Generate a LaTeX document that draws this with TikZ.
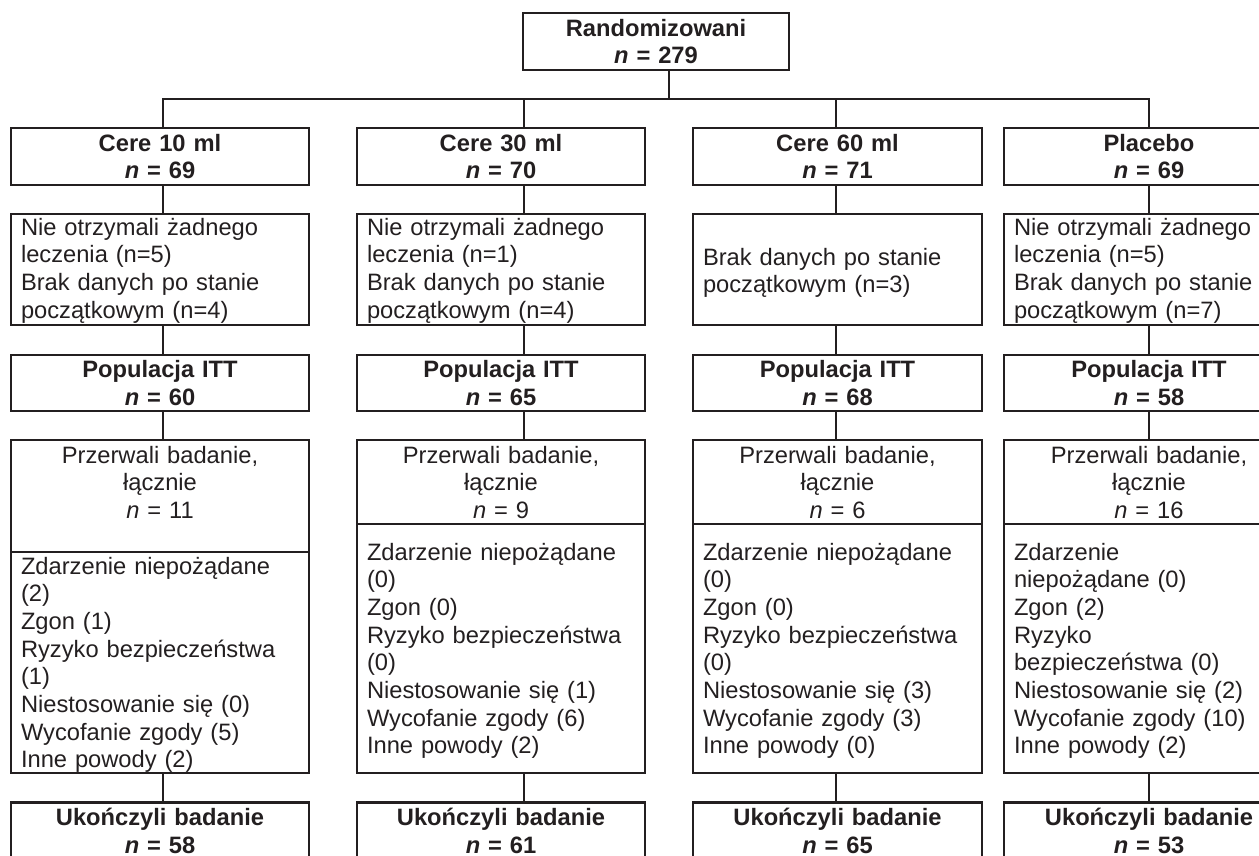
\documentclass[tikz,border=0pt]{standalone}
\usepackage{fontspec}
\setmainfont{Liberation Sans}
\definecolor{ciemny}{HTML}{231F20}
\begin{document}
\begin{tikzpicture}[x=0.5pt,y=-0.5pt,color=ciemny,
    font=\fontsize{11.85}{13.85}\selectfont,
    box/.style={draw,line width=1.15pt,inner ysep=0pt,inner xsep=5pt},
    tytul/.style={box,align=center,font=\fontsize{11.85}{13.85}\selectfont\bfseries},
    lista/.style={box,align=left}]
    \useasboundingbox (0,0) rectangle (1259,856);
    % Kolumny (px): 1: 11-309, 2: 357-645, 3: 693-982, 4: 1004-1294 (ucięta).
    % text height = odstęp pierwszej linii bazowej od góry ramki, text depth = reszta.
    \node[tytul,text width=123pt,minimum height=28.5pt] (rand) at (656,41.5) {Randomizowani\\\textit{n} = 279};
    \coordinate (bus) at (669,99); % szyna pozioma
    \coordinate (s1) at (163,0); \coordinate (s2) at (524,0); % osie linii
    \coordinate (s3) at (836,0); \coordinate (s4) at (1149,0);
    % ramiona
    \node[tytul,text width=139pt,minimum height=28.5pt] (arm1) at (160,156.5) {Cere 10 ml\\\textit{n} = 69};
    \node[tytul,text width=134pt,minimum height=28.5pt] (arm2) at (501,156.5) {Cere 30 ml\\\textit{n} = 70};
    \node[tytul,text width=134.5pt,minimum height=28.5pt] (arm3) at (837.5,156.5) {Cere 60 ml\\\textit{n} = 71};
    \node[tytul,text width=135pt,minimum height=28.5pt] (arm4) at (1149,156.5) {Placebo\\\textit{n} = 69};
    % wykluczeni
    \node[lista,text width=139pt,text height=10.5pt,text depth=45pt] (excl1) at (160,269.5) {Nie otrzymali żadnego\\leczenia (n=5)\\Brak danych po stanie\\początkowym (n=4)};
    \node[lista,text width=134pt,text height=10.5pt,text depth=45pt] (excl2) at (501,269.5) {Nie otrzymali żadnego\\leczenia (n=1)\\Brak danych po stanie\\początkowym (n=4)};
    \node[lista,text width=134.5pt,text height=25.5pt,text depth=30pt] (excl3) at (837.5,269.5) {Brak danych po stanie\\początkowym (n=3)};
    \node[lista,text width=135pt,text height=10.5pt,text depth=45pt] (excl4) at (1149,269.5) {Nie otrzymali żadnego\\leczenia (n=5)\\Brak danych po stanie\\początkowym (n=7)};
    % populacja ITT
    \node[tytul,text width=139pt,minimum height=28pt] (itt1) at (160,383) {Populacja ITT\\\textit{n} = 60};
    \node[tytul,text width=134pt,minimum height=28pt] (itt2) at (501,383) {Populacja ITT\\\textit{n} = 65};
    \node[tytul,text width=134.5pt,minimum height=28pt] (itt3) at (837.5,383) {Populacja ITT\\\textit{n} = 68};
    \node[tytul,text width=135pt,minimum height=28pt] (itt4) at (1149,383) {Populacja ITT\\\textit{n} = 58};
    % przerwali
    \node[box,align=center,text width=139pt,text height=11.5pt,text depth=44.5pt] (stop1) at (160,496) {Przerwali badanie,\\łącznie\\\textit{n} = 11};
    \node[box,align=center,text width=134pt,text height=11.5pt,text depth=30.5pt] (stop2) at (501,482) {Przerwali badanie,\\łącznie\\\textit{n} = 9};
    \node[box,align=center,text width=134.5pt,text height=11.5pt,text depth=30.5pt] (stop3) at (837.5,482) {Przerwali badanie,\\łącznie\\\textit{n} = 6};
    \node[box,align=center,text width=135pt,text height=11.5pt,text depth=30.5pt] (stop4) at (1149,482) {Przerwali badanie,\\łącznie\\\textit{n} = 16};
    % powody
    \node[lista,text width=139pt,text height=11pt,text depth=99.5pt] (low1) at (160,662.5) {Zdarzenie niepożądane\\(2)\\Zgon (1)\\Ryzyko bezpieczeństwa\\(1)\\Niestosowanie się (0)\\Wycofanie zgody (5)\\Inne powody (2)};
    \node[lista,text width=134pt,text height=18pt,text depth=106.5pt] (low2) at (501,648.5) {Zdarzenie niepożądane\\(0)\\Zgon (0)\\Ryzyko bezpieczeństwa\\(0)\\Niestosowanie się (1)\\Wycofanie zgody (6)\\Inne powody (2)};
    \node[lista,text width=134.5pt,text height=18pt,text depth=106.5pt] (low3) at (837.5,648.5) {Zdarzenie niepożądane\\(0)\\Zgon (0)\\Ryzyko bezpieczeństwa\\(0)\\Niestosowanie się (3)\\Wycofanie zgody (3)\\Inne powody (0)};
    \node[lista,text width=135pt,text height=18pt,text depth=106.5pt] (low4) at (1149,648.5) {Zdarzenie\\niepożądane (0)\\Zgon (2)\\Ryzyko\\bezpieczeństwa (0)\\Niestosowanie się (2)\\Wycofanie zgody (10)\\Inne powody (2)};
    % ukończyli
    \node[tytul,text width=139pt,minimum height=28.5pt] (done1) at (160,831) {Ukończyli badanie\\\textit{n} = 58};
    \node[tytul,text width=134pt,minimum height=28.5pt] (done2) at (501,831) {Ukończyli badanie\\\textit{n} = 61};
    \node[tytul,text width=134.5pt,minimum height=28.5pt] (done3) at (837.5,831) {Ukończyli badanie\\\textit{n} = 65};
    \node[tytul,text width=135pt,minimum height=28.5pt] (done4) at (1149,831) {Ukończyli badanie\\\textit{n} = 53};
    % linie
    \draw[line width=1.15pt] (rand.south -| bus) -- (bus);
    \draw[line width=1.15pt] (arm1.north -| s1) |- (bus) -| (arm4.north -| s4);
    \draw[line width=1.15pt] (arm2.north -| s2) -- (bus -| s2);
    \draw[line width=1.15pt] (arm3.north -| s3) -- (bus -| s3);
    \draw[line width=1.15pt] (arm1.south -| s1) -- (excl1.north -| s1); % kolumna 1
    \draw[line width=1.15pt] (excl1.south -| s1) -- (itt1.north -| s1);
    \draw[line width=1.15pt] (itt1.south -| s1) -- (stop1.north -| s1);
    \draw[line width=1.15pt] (low1.south -| s1) -- (done1.north -| s1);
    \draw[line width=1.15pt] (arm2.south -| s2) -- (excl2.north -| s2); % kolumna 2
    \draw[line width=1.15pt] (excl2.south -| s2) -- (itt2.north -| s2);
    \draw[line width=1.15pt] (itt2.south -| s2) -- (stop2.north -| s2);
    \draw[line width=1.15pt] (low2.south -| s2) -- (done2.north -| s2);
    \draw[line width=1.15pt] (arm3.south -| s3) -- (excl3.north -| s3); % kolumna 3
    \draw[line width=1.15pt] (excl3.south -| s3) -- (itt3.north -| s3);
    \draw[line width=1.15pt] (itt3.south -| s3) -- (stop3.north -| s3);
    \draw[line width=1.15pt] (low3.south -| s3) -- (done3.north -| s3);
    \draw[line width=1.15pt] (arm4.south -| s4) -- (excl4.north -| s4); % kolumna 4
    \draw[line width=1.15pt] (excl4.south -| s4) -- (itt4.north -| s4);
    \draw[line width=1.15pt] (itt4.south -| s4) -- (stop4.north -| s4);
    \draw[line width=1.15pt] (low4.south -| s4) -- (done4.north -| s4);
\end{tikzpicture}
\end{document}
